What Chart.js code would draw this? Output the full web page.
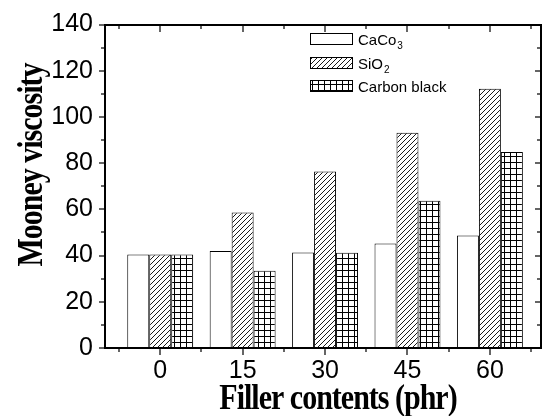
<!DOCTYPE html>
<html lang="en">
<head>
<meta charset="UTF-8">
<title>Mooney viscosity vs filler contents</title>
<script src="https://cdn.jsdelivr.net/npm/chart.js"></script>
<style>
  * { margin: 0; padding: 0; box-sizing: border-box; }
  body { background: white; overflow: hidden; }
  #wrap { width: 544px; height: 416px; }
</style>
</head>
<body>
<div id="wrap"><canvas id="chart" width="544" height="416"></canvas></div>
<script>
// data
const fillerContents = ['0', '15', '30', '45', '60'];
const caco3 = [40.5, 42.0, 41.3, 45.2, 48.7];
const sio2 = [40.5, 58.6, 76.4, 93.2, 112.2];
const carbonBlack = [40.5, 33.4, 41.2, 63.7, 84.8];
const yTicks = [0, 20, 40, 60, 80, 100, 120, 140];

// hatch patterns
function diagPattern() {
    const s = 5;
    const c = document.createElement('canvas');
    c.width = s; c.height = s;
    const g = c.getContext('2d');
    g.fillStyle = '#fff';
    g.fillRect(0, 0, s, s);
    g.strokeStyle = '#000';
    g.lineWidth = 0.9;
    g.beginPath();
    g.moveTo(0, s); g.lineTo(s, 0);
    g.moveTo(-1, 1); g.lineTo(1, -1);
    g.moveTo(s - 1, s + 1); g.lineTo(s + 1, s - 1);
    g.stroke();
    return g.createPattern(c, 'repeat');
}

function gridPattern() {
    const s = 6;
    const c = document.createElement('canvas');
    c.width = s; c.height = s;
    const g = c.getContext('2d');
    g.fillStyle = '#fff';
    g.fillRect(0, 0, s, s);
    g.fillStyle = '#000';
    g.fillRect(0, 0, 1, s);
    g.fillRect(0, 0, s, 1);
    return g.createPattern(c, 'repeat');
}

const ctx = document.getElementById('chart').getContext('2d');
const hatch = diagPattern();
const grid = gridPattern();

const series = [
    { label: 'CaCo', sub: '3', data: caco3, fill: '#fff' },
    { label: 'SiO', sub: '2', data: sio2, fill: hatch },
    { label: 'Carbon black', sub: '', data: carbonBlack, fill: grid }
];

// frame, ticks, legend and axis titles
const decorations = {
    id: 'decorations',
    afterDraw(chart) {
        const c = chart.ctx;
        const a = chart.chartArea;
        const x = chart.scales.x;
        const y = chart.scales.y;
        const L = Math.round(a.left), R = Math.round(a.right);
        const T = Math.round(a.top), B = Math.round(a.bottom);
        c.save();
        c.fillStyle = '#000';
        // box
        c.fillRect(L - 1, T - 1, R - L + 2, 2);
        c.fillRect(L - 1, B - 1, R - L + 2, 2);
        c.fillRect(L - 1, T - 1, 2, B - T + 2);
        c.fillRect(R - 1, T - 1, 2, B - T + 2);

        // y ticks, outside on the left, inside on the right
        for (let v = 0; v <= 140; v += 10) {
            const py = Math.round(y.getPixelForValue(v));
            const len = v % 20 === 0 ? 6 : 4;
            c.fillRect(L - len, py - 0.6, len, 1.2);
            c.fillRect(R - len, py - 0.6, len, 1.2);
        }
        // x ticks, outside at the bottom, inside at the top
        for (let i = -0.5; i <= fillerContents.length - 0.5; i += 0.5) {
            const px = Math.round(x.getPixelForValue(i));
            const len = Number.isInteger(i) ? 7 : 4;
            c.fillRect(px - 0.6, B, 1.2, len);
            c.fillRect(px - 0.6, T, 1.2, len);
        }

        // legend
        const lx = 310, rows = [39, 63, 86];
        c.strokeStyle = '#000';
        series.forEach((s, k) => {
            const top = rows[k] - 6;
            c.fillStyle = s.fill;
            c.fillRect(lx, top, 43, 12);
            c.lineWidth = 1;
            c.strokeRect(lx + 0.5, top + 0.5, 42, 11);
            c.fillStyle = '#000';
            c.font = '15px "Liberation Sans", Arial, sans-serif';
            c.textBaseline = 'alphabetic';
            c.textAlign = 'left';
            c.fillText(s.label, lx + 48, rows[k] + 6);
            if (s.sub) {
                const w = c.measureText(s.label).width;
                c.font = '10px "Liberation Sans", Arial, sans-serif';
                c.fillText(s.sub, lx + 48 + w + 1, rows[k] + 10);
            }
        });

        // axis titles
        c.fillStyle = '#000';
        c.font = 'bold 30px "Liberation Serif", "Times New Roman", serif';
        c.letterSpacing = '-1px';
        c.textAlign = 'center';
        c.textBaseline = 'alphabetic';
        c.save();
        c.translate(338, 409);
        c.scale(1, 1.2);
        c.fillText('Filler contents (phr)', 0, 0);
        c.restore();
        c.save();
        c.translate(42, 165);
        c.rotate(-Math.PI / 2);
        c.scale(1, 1.2);
        c.fillText('Mooney viscosity', 0, 0);
        c.restore();
        c.restore();
    }
};

new Chart(ctx, {
    type: 'bar',
    data: {
        datasets: series.map(s => ({
            label: s.label + s.sub,
            data: s.data.map((v, i) => ({ x: i, y: v })),
            backgroundColor: s.fill,
            borderColor: '#000',
            borderWidth: 1,
            borderSkipped: false,
            categoryPercentage: 0.8,
            barPercentage: 1.0
        }))
    },
    options: {
        responsive: false,
        animation: false,
        layout: { padding: { top: 24, right: 3, left: 0, bottom: 0 } },
        plugins: { legend: { display: false }, tooltip: { enabled: false } },
        scales: {
            x: {
                type: 'linear',
                offset: false,
                min: -0.67,
                max: 4.62,
                grid: { display: false, drawTicks: false, offset: false },
                border: { display: false },
                afterBuildTicks: s => { s.ticks = fillerContents.map((c, i) => ({ value: i })); },
                afterFit: s => { s.height = 68; },
                ticks: {
                    padding: 8,
                    color: '#000',
                    font: { family: '"Liberation Sans", Arial, sans-serif', size: 25 },
                    callback: v => fillerContents[v]
                }
            },
            y: {
                min: 0,
                max: 140,
                grid: { display: false, drawTicks: false },
                border: { display: false },
                afterBuildTicks: s => { s.ticks = yTicks.map(v => ({ value: v })); },
                afterFit: s => { s.width = 105; },
                ticks: {
                    padding: 12,
                    color: '#000',
                    font: { family: '"Liberation Sans", Arial, sans-serif', size: 25, lineHeight: 1 }
                }
            }
        }
    },
    plugins: [decorations]
});
</script>
</body>
</html>
